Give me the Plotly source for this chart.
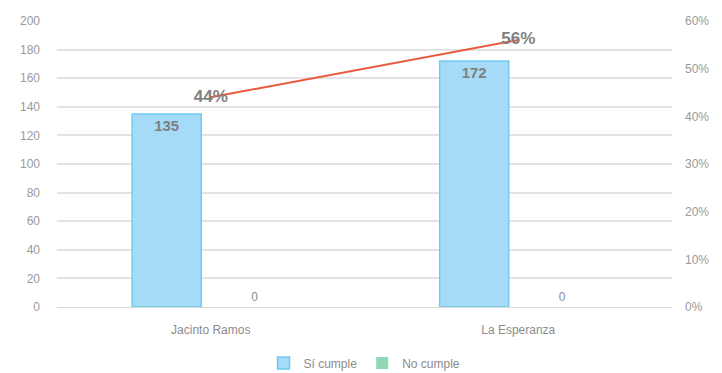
import plotly.graph_objects as go

categories = ["Jacinto Ramos", "La Esperanza"]
si_cumple = [135, 172]
no_cumple = [0, 0]
pct_si = [0.44, 0.56]

grey_txt = "#8c8c8c"
font_fam = "Liberation Sans, Arial, sans-serif"

fig = go.Figure()

fig.add_trace(go.Bar(
    x=categories, y=si_cumple, name="Sí cumple",
    marker=dict(color="#a5dbf6", line=dict(color="#6fcaf0", width=1.5)),
    text=[str(v) for v in si_cumple], textposition="inside",
    insidetextanchor="end",
    textfont=dict(size=15, color="#7f7f7f", family=font_fam, weight="bold"),
))
fig.add_trace(go.Bar(
    x=categories, y=no_cumple, name="No cumple",
    marker=dict(color="#8fd8b6", line=dict(color="#6cc79c", width=0)),
    text=[str(v) for v in no_cumple], textposition="outside",
    textfont=dict(size=12, color="#8c8c8c", family=font_fam),
    cliponaxis=False,
))
fig.add_trace(go.Scatter(
    x=categories, y=pct_si, yaxis="y2", mode="lines+text",
    line=dict(color="#ec5a3c", width=2),
    text=[f"{round(v*100)}%" for v in pct_si],
    textposition="middle center",
    textfont=dict(size=17, color="#7f7f7f", family=font_fam, weight="bold"),
    showlegend=False, cliponaxis=False,
))

fig.update_layout(
    width=722, height=373,
    margin=dict(l=57, r=50, t=21, b=66, autoexpand=False),
    paper_bgcolor="white", plot_bgcolor="white",
    barmode="group", bargap=0.427, bargroupgap=0.216,
    font=dict(family=font_fam, color=grey_txt, size=12),
    xaxis=dict(showgrid=False, showline=True, linecolor="#d9d9d9",
               ticks="", tickfont=dict(size=12, color="#8c8c8c"),
               ticklabelstandoff=12, automargin=False),
    yaxis=dict(range=[0, 200], dtick=20, showgrid=True, gridcolor="#e3e3e3",
               gridwidth=1.5, zeroline=False, tickfont=dict(size=12, color="#9a9a9a"),
               ticklabelstandoff=16, automargin=False),
    yaxis2=dict(range=[0, 0.6], dtick=0.1, tickformat=".0%", overlaying="y",
                side="right", showgrid=False, zeroline=False,
                tickfont=dict(size=12, color="#9a9a9a"), ticklabelstandoff=12,
                automargin=False),
    legend=dict(orientation="h", x=0.5, xanchor="center", y=-0.145,
                yanchor="top", font=dict(size=12, color="#8c8c8c"),
                itemwidth=30),
)

fig.write_html("out.html")
